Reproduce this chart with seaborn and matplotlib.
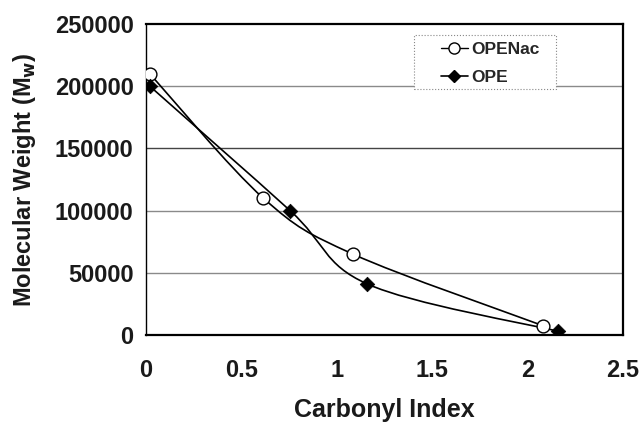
import numpy as np
import matplotlib
matplotlib.use("Agg")
import matplotlib.pyplot as plt
from matplotlib.path import Path
from matplotlib.patches import PathPatch, Rectangle
from matplotlib.lines import Line2D
import seaborn as sns
import pandas as pd

# data
openac_x = [0.02, 0.615, 1.085, 2.08]
openac_y = [210000, 110000, 65000, 7500]
ope_x = [0.02, 0.755, 1.16, 2.16]
ope_y = [200000, 100000, 41000, 3000]
series_names = ["OPENac", "OPE"]
x_ticks = [0, 0.5, 1, 1.5, 2, 2.5]
x_tick_labels = ["0", "0.5", "1", "1.5", "2", "2.5"]
y_ticks = [0, 50000, 100000, 150000, 200000, 250000]
y_tick_labels = ["0", "50000", "100000", "150000", "200000", "250000"]

sns.set_theme(style="white")
plt.rcParams['font.family'] = ['Liberation Sans', 'DejaVu Sans']
plt.rcParams['font.weight'] = 'bold'

fig = plt.figure(figsize=(6.42, 4.23), dpi=100)
ax = fig.add_axes([146/642, 1 - 335/423, (623-146)/642, (335-24)/423])


def smooth_path(xs, ys):
    """Excel-style smoothed line as cubic Bezier path through the data points."""
    P = np.column_stack([xs, ys]).astype(float)
    n = len(P)
    verts = [P[0]]
    codes = [Path.MOVETO]
    for i in range(n - 1):
        p0 = P[i - 1] if i > 0 else P[i]
        p1 = P[i]
        p2 = P[i + 1]
        p3 = P[i + 2] if i + 2 < n else P[i + 1]
        c1 = p1 + (p2 - p0) / 6.0
        c2 = p2 - (p3 - p1) / 6.0
        verts += [c1, c2, p2]
        codes += [Path.CURVE4] * 3
    return Path(verts, codes)


for xs, ys in [(openac_x, openac_y), (ope_x, ope_y)]:
    ax.add_patch(PathPatch(smooth_path(xs, ys), facecolor='none',
                           edgecolor='black', lw=1.2, zorder=3))

df = pd.concat([
    pd.DataFrame({"x": openac_x, "y": openac_y, "s": series_names[0]}),
    pd.DataFrame({"x": ope_x, "y": ope_y, "s": series_names[1]}),
])
sns.scatterplot(data=df[df.s == "OPENac"], x="x", y="y", ax=ax, marker='o',
                s=85, facecolor='white', edgecolor='black', linewidth=1.0,
                zorder=4, legend=False)
sns.scatterplot(data=df[df.s == "OPE"], x="x", y="y", ax=ax, marker='D',
                s=55, color='black', edgecolor='black', linewidth=0.5,
                zorder=5, legend=False)

ax.set_xlim(0, 2.5)
ax.set_ylim(0, 250000)
ax.set_xticks(x_ticks)
ax.set_xticklabels(x_tick_labels)
ax.set_yticks(y_ticks)
ax.set_yticklabels(y_tick_labels)

for yv in y_ticks[1:-1]:
    ax.axhline(yv, color='#444444' if yv == 150000 else '#8a8a8a', lw=1.0, zorder=1)

for sp in ax.spines.values():
    sp.set_color('black')
    sp.set_linewidth(1.6)
ax.spines['left'].set_linewidth(1.0)

ax.tick_params(axis='both', which='major', direction='out', length=6, width=0.8,
               colors='black', labelsize=17, pad=4)
ax.tick_params(axis='x', pad=11)
ax.tick_params(axis='y', pad=3)
for lab in ax.get_xticklabels() + ax.get_yticklabels():
    lab.set_fontweight('bold')
    lab.set_color('#1a1a1a')

ax.set_xlabel("Carbonyl Index", fontsize=18, fontweight='bold', labelpad=12, color='#1a1a1a')
ax.set_ylabel("Molecular Weight (M$_\\mathbf{w}$)", fontsize=17, fontweight='bold',
              labelpad=12, color='#1a1a1a')

# legend frame (dotted box)
ax.add_patch(Rectangle((0.562, 0.791), 0.298, 0.174, transform=ax.transAxes,
                       facecolor='white', edgecolor='#888888', lw=0.8,
                       linestyle=':', zorder=6))
handles = [
    Line2D([], [], color='black', lw=1.0, marker='o', markersize=8,
           markerfacecolor='white', markeredgecolor='black'),
    Line2D([], [], color='black', lw=1.2, marker='D', markersize=6,
           markerfacecolor='black', markeredgecolor='black'),
]
leg = ax.legend(handles, series_names, loc='center left',
                bbox_to_anchor=(0.618, 0.873), frameon=False,
                prop={'weight': 'bold', 'size': 12.5}, handlelength=1.55,
                handletextpad=0.2, borderpad=0, labelspacing=0.7,
                borderaxespad=0)
leg.set_zorder(7)

fig.savefig("out.png", dpi=100)
